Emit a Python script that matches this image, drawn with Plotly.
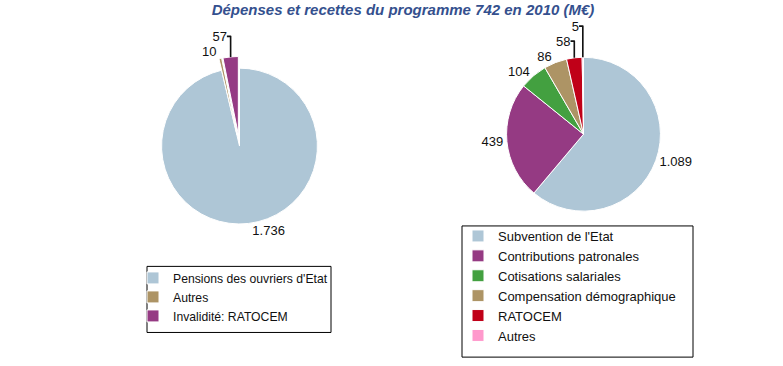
import plotly.graph_objects as go

W, H = 783, 366

# Data
dep_labels = ["Pensions des ouvriers d'Etat", "Autres", "Invalidité: RATOCEM"]
dep_values = [1736, 10, 57]
dep_colors = ["#AEC6D6", "#AD9465", "#953A83"]

# trailing space keeps this "Autres" distinct from the left pie's one in the legends
rec_labels = ["Subvention de l'Etat", "Contributions patronales", "Cotisations salariales",
              "Compensation démographique", "RATOCEM", "Autres "]
rec_values = [1089, 439, 104, 86, 58, 5]
rec_colors = ["#AEC6D6", "#953A83", "#43A040", "#AD9465", "#C00018", "#FF99CC"]

title_text = "Dépenses et recettes du programme 742 en 2010 (M€)"


def px_x(x):
    return x / W


def px_y(y):
    return (H - y) / H


FONT = "Liberation Sans, Arial, sans-serif"

# left pie geometry
lr, lpull = 79, 0.15
lcx, lcy = 239.5, 143
lhalf = lr * (1 + lpull)
# right pie geometry
rr = 78
rcx, rcy = 583.5, 131

fig = go.Figure()
fig.add_trace(go.Pie(
    labels=dep_labels, values=dep_values, sort=False, direction="clockwise", rotation=0,
    marker=dict(colors=dep_colors, line=dict(color="white", width=1)),
    pull=[0, lpull, lpull],
    textposition="outside", texttemplate="%{value:,}",
    outsidetextfont=dict(family=FONT, size=13, color="#111"),
    domain=dict(x=[px_x(lcx - lhalf), px_x(lcx + lhalf)], y=[px_y(lcy + lhalf), px_y(lcy - lhalf)]),
    legend="legend", showlegend=True, hoverinfo="label+value",
))
fig.add_trace(go.Pie(
    labels=rec_labels, values=rec_values, sort=False, direction="clockwise", rotation=0,
    marker=dict(colors=rec_colors, line=dict(color="white", width=1)),
    textposition="outside", texttemplate="%{value:,}",
    outsidetextfont=dict(family=FONT, size=13, color="#111"),
    domain=dict(x=[px_x(rcx - rr), px_x(rcx + rr)], y=[px_y(rcy + rr), px_y(rcy - rr)]),
    legend="legend2", showlegend=True, hoverinfo="label+value",
))

legend_common = dict(bgcolor="rgba(0,0,0,0)", borderwidth=0, xanchor="left", yanchor="top",
                     traceorder="normal")

fig.update_layout(
    width=W, height=H,
    margin=dict(l=0, r=0, t=0, b=0),
    paper_bgcolor="white", plot_bgcolor="white",
    separators=",.",
    title=dict(text=title_text, x=px_x(403), xanchor="center", y=px_y(10), yanchor="middle",
               font=dict(family=FONT, size=15, color="#34508E", weight="bold", style="italic")),
    legend=dict(x=px_x(133), y=px_y(262), font=dict(family=FONT, size=12.2, color="#111"), **legend_common),
    legend2=dict(x=px_x(458), y=px_y(219), font=dict(family=FONT, size=13, color="#111"), **legend_common),
    shapes=[
        dict(type="rect", xref="paper", yref="paper", x0=px_x(147), x1=px_x(331), y0=px_y(332), y1=px_y(265),
             line=dict(color="black", width=1)),
        dict(type="rect", xref="paper", yref="paper", x0=px_x(462), x1=px_x(693), y0=px_y(357), y1=px_y(224),
             line=dict(color="black", width=1)),
    ],
)

fig.write_html("out.html", config={"displayModeBar": False},
               post_script="document.body.style.margin='0';document.body.style.overflow='hidden';")
